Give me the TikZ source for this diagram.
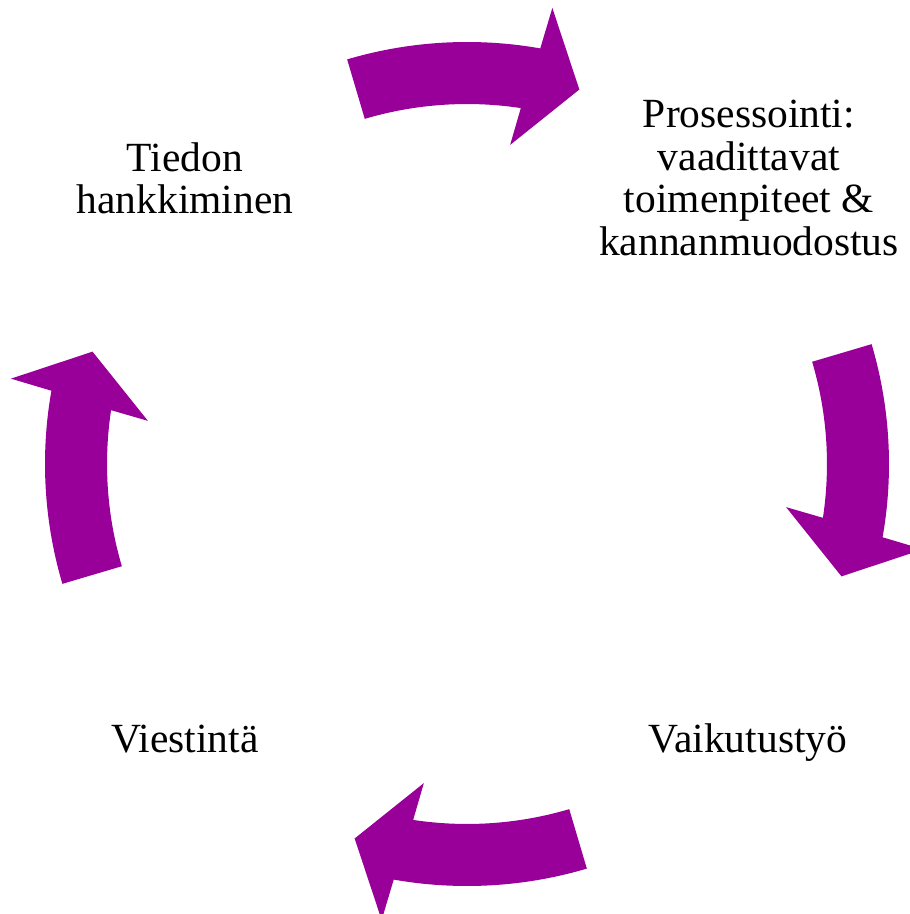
\documentclass[tikz,border=0pt]{standalone}
\usepackage{fontspec}
\setmainfont{Liberation Serif}
\definecolor{cyclepurple}{RGB}{153,0,153}
\tikzset{
    cycle-text/.style={align=center, inner sep=0pt, font=\fontsize{11.8}{12.1}\selectfont},
    cycle-arrow/.style={fill=cyclepurple, draw=none}
}

\begin{document}
\begin{tikzpicture}[x=0.01cm, y=0.01cm]
    \useasboundingbox (0,0) rectangle (910,914);
    \clip (0,0) rectangle (910,914);
    \coordinate (hub) at (467,450);
    % one curved block arrow, turned a quarter for each step
    \foreach \turn in {0,-90,-180,-270} {
        \begin{scope}[shift={(hub)}, rotate=\turn]
            \fill[cycle-arrow] (106.5:422) arc[start angle=106.5, end angle=80, radius=422]
                -- (79.4:464) -- (73.3:391) -- (82.3:322) -- (81.4:360)
                arc[start angle=81.4, end angle=106.5, radius=360] -- cycle;
        \end{scope}
    };
    \node[cycle-text] (tiedon) at (185,735.5) {Tiedon\\hankkiminen};
    \node[cycle-text] (prosessointi) at (749,736) {Prosessointi:\\vaadittavat\\toimenpiteet \&\\kannanmuodostus};
    \node[cycle-text, anchor=base] (vaikutustyo) at (748,162) {Vaikutustyö};
    \node[cycle-text, anchor=base] (viestinta) at (185,162) {Viestintä};
\end{tikzpicture}
\end{document}
